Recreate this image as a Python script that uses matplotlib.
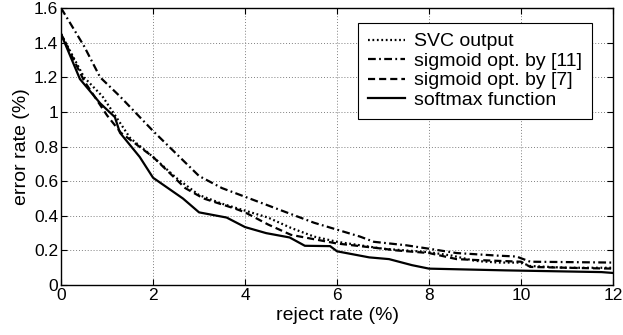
import numpy as np
import matplotlib
matplotlib.use("Agg")
import matplotlib.pyplot as plt

plt.rcParams['font.family'] = ['Liberation Sans', 'DejaVu Sans']

# Reject rate (%) / error rate (%)
svc_x = [0, 0.5, 0.9, 1.15, 1.5, 2.0, 2.5, 3.0, 3.5, 4.0, 4.5, 5.0, 5.5, 6.0,
         6.5, 7.0, 7.5, 8.0, 8.5, 9.0, 9.5, 10.0, 10.2, 11.0, 12.0]
svc_y = [1.45, 1.20, 1.09, 0.99, 0.85, 0.74, 0.62, 0.52, 0.47, 0.43, 0.39, 0.33,
         0.28, 0.25, 0.23, 0.21, 0.20, 0.19, 0.17, 0.14, 0.13, 0.13, 0.11, 0.10, 0.10]

sig11_x = [0, 0.5, 0.85, 1.28, 2.0, 2.5, 3.0, 3.5, 4.0, 4.5, 5.1, 5.5, 6.0,
           6.5, 6.8, 7.5, 8.0, 8.6, 9.5, 9.9, 10.2, 12.0]
sig11_y = [1.60, 1.38, 1.20, 1.09, 0.89, 0.76, 0.63, 0.56, 0.51, 0.46, 0.40, 0.36,
           0.32, 0.28, 0.25, 0.23, 0.21, 0.185, 0.17, 0.165, 0.135, 0.13]

sig7_x = [0, 0.5, 1.0, 1.3, 2.0, 2.7, 3.1, 3.8, 4.0, 4.5, 5.0, 5.5, 6.0, 6.5,
          7.0, 7.3, 8.0, 8.6, 9.0, 10.0, 10.2, 11.0, 12.0]
sig7_y = [1.45, 1.18, 0.98, 0.88, 0.74, 0.56, 0.50, 0.44, 0.42, 0.35, 0.29, 0.265,
          0.24, 0.225, 0.21, 0.20, 0.185, 0.15, 0.145, 0.135, 0.105, 0.10, 0.095]

soft_x = [0, 0.41, 0.85, 1.17, 1.28, 1.71, 2.0, 2.65, 3.0, 3.6, 4.0, 4.46, 4.97,
          5.3, 5.85, 6.0, 6.7, 7.13, 7.63, 8.0, 9.66, 11.75, 12.0]
soft_y = [1.45, 1.19, 1.05, 0.97, 0.88, 0.74, 0.62, 0.50, 0.42, 0.39, 0.335, 0.30,
          0.275, 0.227, 0.225, 0.195, 0.16, 0.15, 0.115, 0.095, 0.085, 0.075, 0.07]

fig = plt.figure(figsize=(6.23, 3.35), dpi=100)
ax = fig.add_axes([0.098, 0.149, 0.886, 0.827])

lw = 1.6
ax.plot(svc_x, svc_y, color="black", linestyle=(0, (0.8, 1.2)), linewidth=lw, label="SVC output")
ax.plot(sig11_x, sig11_y, color="black", linestyle=(0, (3.5, 1.5, 0.8, 1.5)), linewidth=lw,
        label="sigmoid opt. by [11]")
ax.plot(sig7_x, sig7_y, color="black", linestyle=(0, (3.2, 1.8)), linewidth=lw,
        label="sigmoid opt. by [7]")
ax.plot(soft_x, soft_y, color="black", linestyle="-", linewidth=lw, label="softmax function")

ax.set_xlim(0, 12)
ax.set_ylim(0, 1.6)
ax.set_xticks(np.arange(0, 13, 2))
ax.set_yticks(np.arange(0, 1.61, 0.2))
ax.set_yticklabels(["0", "0.2", "0.4", "0.6", "0.8", "1", "1.2", "1.4", "1.6"])
ax.grid(True, color="gray", linestyle=(0, (1, 2)), linewidth=0.7)
ax.tick_params(direction="in", top=True, right=True, labelsize=12.5, length=4, pad=2)
for s in ax.spines.values():
    s.set_linewidth(1.0)

ax.set_xlabel("reject rate (%)", fontsize=14, labelpad=3)
ax.set_ylabel("error rate (%)", fontsize=14, labelpad=3)

leg = ax.legend(loc="upper right", bbox_to_anchor=(0.962, 0.946), fontsize=14,
                fancybox=False, framealpha=1, edgecolor="black", handlelength=1.9,
                handletextpad=0.5, borderaxespad=0, borderpad=0.5,
                labelspacing=0.1)
leg.get_frame().set_linewidth(0.8)

fig.savefig("out.png", dpi=100)
